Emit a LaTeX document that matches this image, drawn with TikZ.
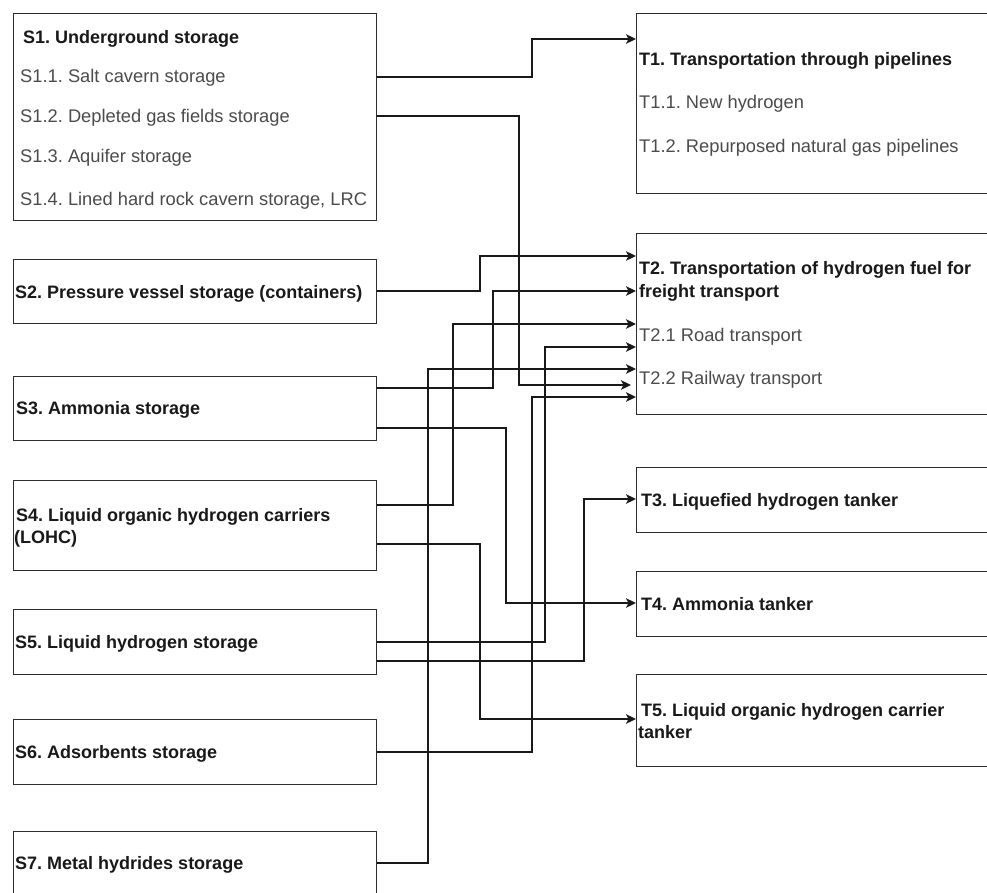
\documentclass[tikz,border=0pt]{standalone}
\usepackage{fontspec}
\setmainfont{Liberation Sans}
\usetikzlibrary{arrows.meta}
\definecolor{edgec}{RGB}{45,45,45}
\definecolor{subc}{RGB}{75,75,75}
\frenchspacing
\begin{document}
\begin{tikzpicture}[x=1pt,y=-1pt,
  box/.style={draw=edgec, line width=1.4pt, rectangle, inner sep=0pt, anchor=north west, minimum width=363pt},
  tbox/.style={box, minimum width=360pt},
  ttl/.style={anchor=base west, inner sep=0pt, font=\bfseries\fontsize{18}{20}\selectfont, text=black!90},
  itm/.style={anchor=base west, inner sep=0pt, font=\fontsize{18.3}{20}\selectfont, text=subc},
  conn/.style={draw=black!90, line width=1.5pt, -{Stealth[length=10pt,width=9.5pt,inset=2.5pt]}}]
\useasboundingbox (0,0) rectangle (987,893);
\fill[white] (0,0) rectangle (987,893);
\clip (0,0) rectangle (987,893);

% storage boxes
\node[box, minimum height=207pt] (S1) at (13,13) {};
\node[box, minimum height=64pt] (S2) at (13,259) {};
\node[box, minimum height=64pt] (S3) at (13,376) {};
\node[box, minimum height=90pt] (S4) at (13,480) {};
\node[box, minimum height=65pt] (S5) at (13,609) {};
\node[box, minimum height=65pt] (S6) at (13,719) {};
\node[box, minimum height=90pt] (S7) at (13,831) {};

% transport boxes
\node[tbox, minimum height=180pt] (T1) at (636,13) {};
\node[tbox, minimum height=181pt] (T2) at (636,233) {};
\node[tbox, minimum height=65pt] (T3) at (636,467) {};
\node[tbox, minimum height=65pt] (T4) at (636,571) {};
\node[tbox, minimum height=92pt] (T5) at (636,674) {};

% storage texts
\node[ttl] (S1t) at (23,44) {S1. Underground storage};
\node[itm] (S1a) at (20,83) {S1.1. Salt cavern storage};
\node[itm] (S1b) at (20,123) {S1.2. Depleted gas fields storage};
\node[itm] (S1c) at (20,163) {S1.3. Aquifer storage};
\node[itm] (S1d) at (20,206) {S1.4. Lined hard rock cavern storage, LRC};
\node[ttl] (S2t) at (15,298) {S2. Pressure vessel storage (containers)};
\node[ttl] (S3t) at (16,414) {S3. Ammonia storage};
\node[ttl] (S4t) at (16,521) {S4. Liquid organic hydrogen carriers};
\node[ttl] (S4u) at (14,543) {(LOHC)};
\node[ttl] (S5t) at (15,648) {S5. Liquid hydrogen storage};
\node[ttl] (S6t) at (15,758) {S6. Adsorbents storage};
\node[ttl] (S7t) at (15,869) {S7. Metal hydrides storage};

% transport texts
\node[ttl] (T1t) at (639,66) {T1. Transportation through pipelines};
\node[itm] (T1a) at (639,109) {T1.1. New hydrogen};
\node[itm] (T1b) at (639,153) {T1.2. Repurposed natural gas pipelines};
\node[ttl] (T2t) at (639,274) {T2. Transportation of hydrogen fuel for};
\node[ttl] (T2u) at (639,297) {freight transport};
\node[itm] (T2a) at (639,341) {T2.1 Road transport};
\node[itm] (T2b) at (639,384) {T2.2 Railway transport};
\node[ttl] (T3t) at (641,506) {T3. Liquefied hydrogen tanker};
\node[ttl] (T4t) at (641,610) {T4. Ammonia tanker};
\node[ttl] (T5t) at (641,716) {T5. Liquid organic hydrogen carrier};
\node[ttl] (T5u) at (638,738) {tanker};

% connectors
\draw[conn] (S1.east |- 0,77) -| (532,39) -- (T1.west |- 0,39);
\draw[conn, shorten >=5pt] (S1.east |- 0,116) -| (519,385) -- (T2.west |- 0,385);
\draw[conn] (S2.east |- 0,291) -| (480,256) -- (T2.west |- 0,256);
\draw[conn] (S3.east |- 0,388) -| (493,291) -- (T2.west |- 0,291);
\draw[conn] (S3.east |- 0,428) -| (506,603) -- (T4.west |- 0,603);
\draw[conn] (S4.east |- 0,505) -| (453,324) -- (T2.west |- 0,324);
\draw[conn] (S4.east |- 0,544) -| (480,719) -- (T5.west |- 0,719);
\draw[conn] (S5.east |- 0,642) -| (545,347) -- (T2.west |- 0,347);
\draw[conn] (S5.east |- 0,661) -| (584,499) -- (T3.west |- 0,499);
\draw[conn] (S6.east |- 0,752) -| (532,397) -- (T2.west |- 0,397);
\draw[conn] (S7.east |- 0,863) -| (428,369) -- (T2.west |- 0,369);
\end{tikzpicture}
\end{document}
